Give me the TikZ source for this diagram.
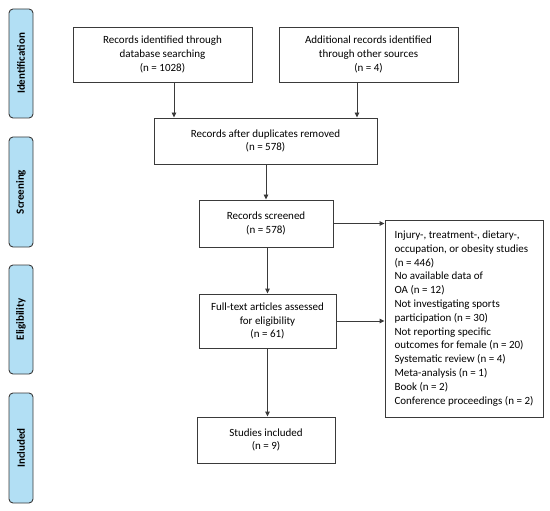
\documentclass[tikz,border=0pt]{standalone}
\usepackage{fontspec}
\setmainfont{Carlito}
\usepackage{tikz}
\usetikzlibrary{positioning,arrows.meta}

\definecolor{phaseblue}{HTML}{B2DFF4}
\definecolor{lineclr}{HTML}{3A3A3A}

\begin{document}
\begin{tikzpicture}[
    x=1pt, y=-1pt,
    every node/.style={font=\fontsize{11}{13.8}\selectfont},
    box/.style={draw=lineclr, line width=0.9pt, align=center, inner sep=4pt},
    phase/.style={draw=lineclr, line width=0.9pt, fill=phaseblue, rounded corners=4pt,
      rotate=90, minimum height=24pt, inner sep=0pt, font=\fontsize{11}{13}\selectfont\bfseries},
    arr/.style={-{Triangle[length=5pt,width=4.5pt]}, line width=0.9pt, draw=lineclr}
  ]
    \useasboundingbox (0,0) rectangle (550,511);

    % phase labels
    \node[phase, minimum width=109pt] (ident) at (21,63.5) {Identification};
    \node[phase, minimum width=110pt] (screen) at (21,192) {Screening};
    \node[phase, minimum width=109pt] (elig) at (21,319.5) {Eligibility};
    \node[phase, minimum width=110pt] (incl) at (21,448) {Included};

    % flow
    \node[box, minimum width=179pt, minimum height=55pt] (dbsearch) at (162.5,54.5)
      {Records identified through\\database searching\\(n = 1028)};
    \node[box, minimum width=179pt, minimum height=55pt] (othersrc) at (368.5,54.5)
      {Additional records identified\\through other sources\\(n = 4)};
    \node[box, minimum width=223pt, minimum height=46pt] (dedup) at (265.5,141)
      {Records after duplicates removed\\(n = 578)};
    \node[box, minimum width=134pt, minimum height=47pt] (screened) at (266,223.5)
      {Records screened\\(n = 578)};
    \node[box, minimum width=137pt, minimum height=54pt] (fulltext) at (267.5,321)
      {Full-text articles assessed\\for eligibility\\(n = 61)};
    \node[box, minimum width=138pt, minimum height=46pt] (studies) at (266,440)
      {Studies included\\(n = 9)};
    \node[box, align=left, minimum width=158pt, minimum height=197pt, inner xsep=6pt] (excluded) at (464,318.5)
      {Injury-, treatment-, dietary-,\\occupation, or obesity studies\\(n = 446)\\No available data of\\OA (n = 12)\\Not investigating sports\\participation (n = 30)\\Not reporting specific\\outcomes for female (n = 20)\\Systematic review (n = 4)\\Meta-analysis (n = 1)\\Book (n = 2)\\Conference proceedings (n = 2)};

    \draw[arr] (dbsearch.south -| 174,0) -- (dedup.north -| 174,0);
    \draw[arr] (othersrc.south -| 357,0) -- (dedup.north -| 357,0);
    \draw[arr] (dedup.south -| screened.north) -- (screened.north);
    \draw[arr] (screened.east) -- (screened.east -| excluded.west);
    \draw[arr] (fulltext.east) -- (fulltext.east -| excluded.west);
    \draw[arr] (screened.south -| fulltext.north) -- (fulltext.north);
    \draw[arr] (fulltext.south) -- (fulltext.south |- studies.north);
  \end{tikzpicture}
\end{document}
